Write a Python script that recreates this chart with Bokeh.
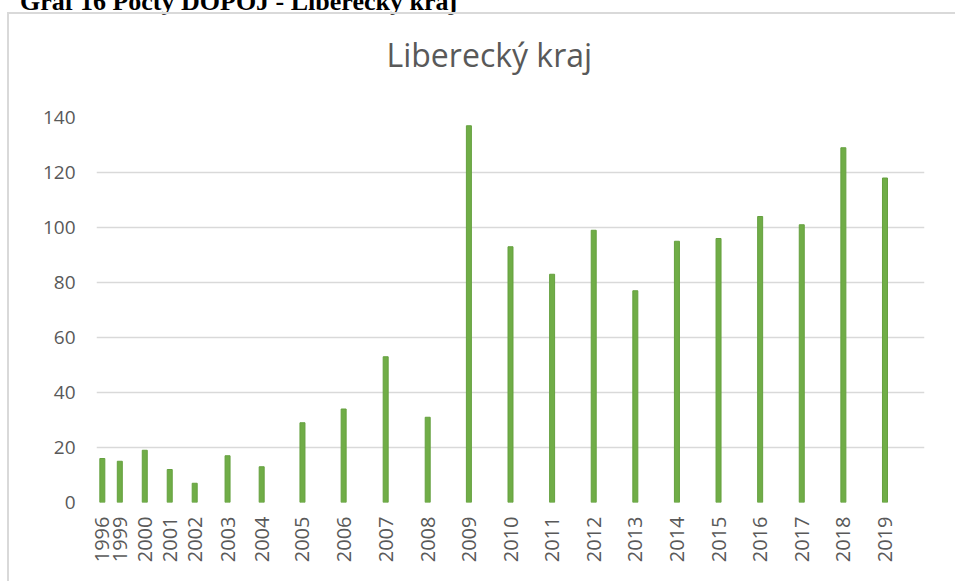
from bokeh.plotting import figure
from bokeh.models import Range1d, FixedTicker, Title, Div, ColumnDataSource
from bokeh.layouts import column
from bokeh.embed import file_html
from bokeh.resources import INLINE
import math

# ---- data ----
years = ["1996", "1999", "2000", "2001", "2002", "2003", "2004", "2005", "2006",
         "2007", "2008", "2009", "2010", "2011", "2012", "2013", "2014", "2015",
         "2016", "2017", "2018", "2019"]
counts = [16, 15, 19, 12, 7, 17, 13, 29, 34, 53, 31, 137, 93, 83, 99, 77, 95,
          96, 104, 101, 129, 118]
y_ticks = [0, 20, 40, 60, 80, 100, 120, 140]

# category slot positions along the (irregular) axis of the original chart
slots = [0, 0.42, 1.02, 1.62, 2.22, 3.01, 3.83, 4.81, 5.80, 6.81, 7.82, 8.81,
         9.81, 10.81, 11.81, 12.81, 13.81, 14.81, 15.81, 16.81, 17.81, 18.81]

src = ColumnDataSource(dict(x=slots, y=counts, year=years))

grey = "#595959"
W, H = 948, 577
p = figure(width=W, height=H, output_backend="svg", toolbar_location=None,
           x_range=Range1d(-0.14, 19.76), y_range=Range1d(0, 140),
           min_border_left=87, min_border_right=33, min_border_top=103,
           min_border_bottom=89)
p.styles = {"margin-left": "7px",
            "border-left": "2px solid #d9d9d9",
            "border-top": "2px solid #d9d9d9"}
p.outline_line_color = None
p.background_fill_color = "white"
p.border_fill_color = "white"

p.vbar(x="x", top="y", width=0.12, bottom=0, source=src,
       fill_color="#70ad47", line_color="#65a03f", line_width=1)

p.xaxis.ticker = FixedTicker(ticks=slots)
p.xaxis.major_label_overrides = {s: y for s, y in zip(slots, years)}
p.xaxis.major_label_orientation = math.pi / 2
p.xaxis.major_label_text_font = "Open Sans"
p.xaxis.major_label_text_font_size = "20px"
p.xaxis.major_label_text_color = grey
p.xaxis.major_label_standoff = 14
p.xaxis.axis_line_color = None
p.xaxis.major_tick_line_color = None
p.xaxis.minor_tick_line_color = None
p.xaxis.major_tick_out = 0
p.xaxis.major_tick_in = 0

p.yaxis.ticker = FixedTicker(ticks=y_ticks)
p.yaxis.major_label_text_font = "Open Sans"
p.yaxis.major_label_text_font_size = "19px"
p.yaxis.major_label_text_color = grey
p.yaxis.major_label_standoff = 21
p.yaxis.axis_line_color = None
p.yaxis.major_tick_line_color = None
p.yaxis.minor_tick_line_color = None
p.yaxis.major_tick_out = 0
p.yaxis.major_tick_in = 0

p.xgrid.grid_line_color = None
p.ygrid.grid_line_color = "#d9d9d9"
p.ygrid.grid_line_width = 1.5

chart_title = Title(text="Liberecký kraj", align="left", offset=290,
                    standoff=10, text_font="Open Sans", text_font_size="32px",
                    text_font_style="normal", text_color=grey,
                    padding=dict(left=0, right=0, top=0, bottom=37))
p.add_layout(chart_title, "above")

header = Div(text="Graf 16 Počty DOPOJ - Liberecký kraj", width=900, height=23,
             styles={"font-family": "'Liberation Serif', serif",
                     "font-weight": "bold", "font-size": "26px",
                     "line-height": "26px", "color": "black",
                     "padding-left": "15px", "overflow": "visible",
                     "white-space": "nowrap", "position": "relative",
                     "top": "5px"})

root = column(header, p, styles={"margin-top": "-21px"})

open("out.html", "w").write(file_html(root, INLINE))
